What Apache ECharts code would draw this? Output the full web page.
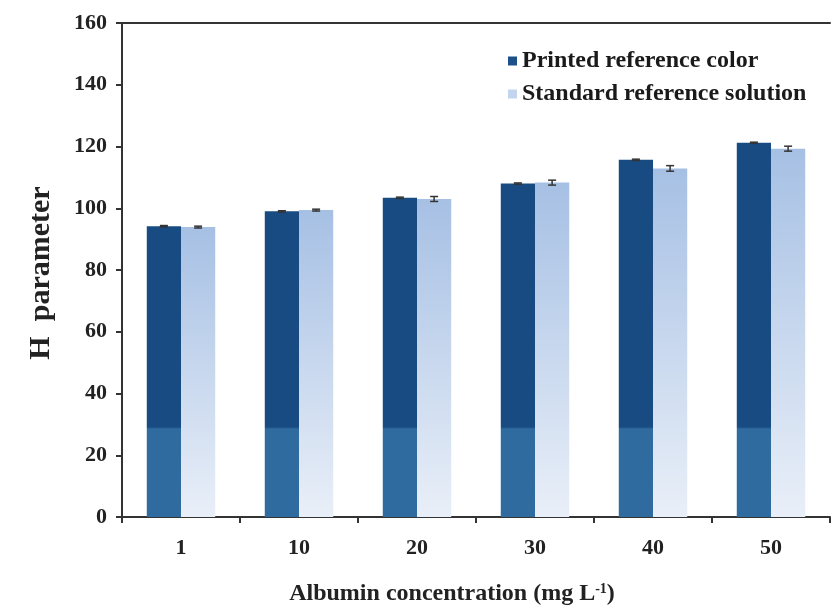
<!DOCTYPE html>
<html>
<head>
<meta charset="utf-8">
<script src="https://cdn.jsdelivr.net/npm/echarts@6/dist/echarts.min.js"></script>
<style>html,body{margin:0;padding:0;background:#fff}#c{width:831px;height:610px}</style>
</head>
<body>
<div id="c"></div>
<script>
const categories = ['1', '10', '20', '30', '40', '50'];
const printedValues = [94.2, 99.0, 103.4, 108.0, 115.7, 121.2];
const printedErr = [0.2, 0.2, 0.2, 0.2, 0.2, 0.2];
const standardValues = [93.9, 99.4, 103.0, 108.3, 112.9, 119.3];
const standardErr = [0.3, 0.3, 0.8, 0.8, 0.9, 0.8];
const yTicks = { min: 0, max: 160, interval: 20 };
const seriesNames = ['Printed reference color', 'Standard reference solution'];

const FONT = 'Liberation Serif';
const chart = echarts.init(document.getElementById('c'), null, { renderer: 'canvas' });

const darkFill = new echarts.graphic.LinearGradient(0, 0, 0, 610, [
  { offset: 0, color: '#174b82' },
  { offset: 0.700, color: '#174b82' },
  { offset: 0.703, color: '#2f6b9e' },
  { offset: 1, color: '#2f6b9e' }
], true);
const lightFill = new echarts.graphic.LinearGradient(0, 0, 0, 1, [
  { offset: 0, color: '#a6c0e4' },
  { offset: 1, color: '#e9eff8' }
]);

function errRender(shiftSign) {
  return function (params, api) {
    const i = api.value(0), v = api.value(1), e = api.value(2);
    const w = api.size([1, 0])[0];
    const cx = api.coord([i, v])[0] + shiftSign * w * 0.145;
    const yt = api.coord([i, v + e])[1];
    const yb = api.coord([i, v - e])[1];
    const cap = 4;
    const st = { stroke: '#333', lineWidth: 1.5 };
    return {
      type: 'group',
      children: [
        { type: 'line', shape: { x1: cx, y1: yt, x2: cx, y2: yb }, style: st },
        { type: 'line', shape: { x1: cx - cap, y1: yt, x2: cx + cap, y2: yt }, style: st },
        { type: 'line', shape: { x1: cx - cap, y1: yb, x2: cx + cap, y2: yb }, style: st }
      ]
    };
  };
}

const option = {
  backgroundColor: '#fff',
  animation: false,
  textStyle: { fontFamily: FONT },
  grid: { left: 122, top: 23, width: 708, height: 494, containLabel: false, outerBoundsMode: 'none' },
  legend: {
    orient: 'vertical',
    left: 503,
    top: 44,
    itemWidth: 9,
    itemHeight: 9,
    itemGap: 9,
    icon: 'rect',
    textStyle: { fontFamily: FONT, fontWeight: 'bold', fontSize: 24, color: '#1a1a1a' },
    data: [
      { name: seriesNames[0], itemStyle: { color: '#1d5088' } },
      { name: seriesNames[1], itemStyle: { color: '#c2d4ee' } }
    ]
  },
  xAxis: [
    {
      type: 'category',
      data: categories,
      position: 'bottom',
      axisLine: { lineStyle: { color: '#333', width: 2 } },
      axisTick: { show: true, inside: false, length: 6, alignWithLabel: false, lineStyle: { color: '#333', width: 2 } },
      axisLabel: { fontFamily: FONT, fontWeight: 'bold', fontSize: 22, color: '#222', margin: 20 },
      name: 'Albumin concentration (mg L{sup|-1})',
      nameLocation: 'middle',
      nameGap: 65,
      nameTextStyle: {
        fontFamily: FONT, fontWeight: 'bold', fontSize: 24, color: '#222',
        padding: [0, 48, 0, 0],
        rich: { sup: { fontFamily: FONT, fontWeight: 'bold', fontSize: 14, color: '#222', verticalAlign: 'top', padding: [0, 0, 10, 0] } }
      }
    },
    {
      type: 'category',
      data: categories,
      position: 'top',
      axisLine: { lineStyle: { color: '#333', width: 2 } },
      axisTick: { show: false },
      axisLabel: { show: false }
    }
  ],
  yAxis: {
    type: 'value',
    min: yTicks.min,
    max: yTicks.max,
    interval: yTicks.interval,
    splitLine: { show: false },
    axisLine: { show: true, lineStyle: { color: '#333', width: 2 } },
    axisTick: { show: true, inside: false, length: 6, lineStyle: { color: '#333', width: 2 } },
    axisLabel: { fontFamily: FONT, fontWeight: 'bold', fontSize: 22, color: '#222', margin: 15 },
    name: 'H  parameter',
    nameLocation: 'middle',
    nameGap: 66,
    nameRotate: 90,
    nameTextStyle: { fontFamily: FONT, fontWeight: 'bold', fontSize: 30, color: '#222', padding: [0, 6, 0, 0] }
  },
  series: [
    {
      name: seriesNames[0],
      type: 'bar',
      data: printedValues,
      barWidth: '29%',
      barGap: '0%',
      itemStyle: { color: darkFill }
    },
    {
      name: seriesNames[1],
      type: 'bar',
      data: standardValues,
      barWidth: '29%',
      barGap: '0%',
      itemStyle: { color: lightFill }
    },
    {
      type: 'custom',
      name: 'err1',
      renderItem: errRender(-1),
      data: printedValues.map((v, i) => [i, v, printedErr[i]]),
      z: 5,
      silent: true
    },
    {
      type: 'custom',
      name: 'err2',
      renderItem: errRender(1),
      data: standardValues.map((v, i) => [i, v, standardErr[i]]),
      z: 5,
      silent: true
    }
  ]
};
chart.setOption(option);
</script>
</body>
</html>
